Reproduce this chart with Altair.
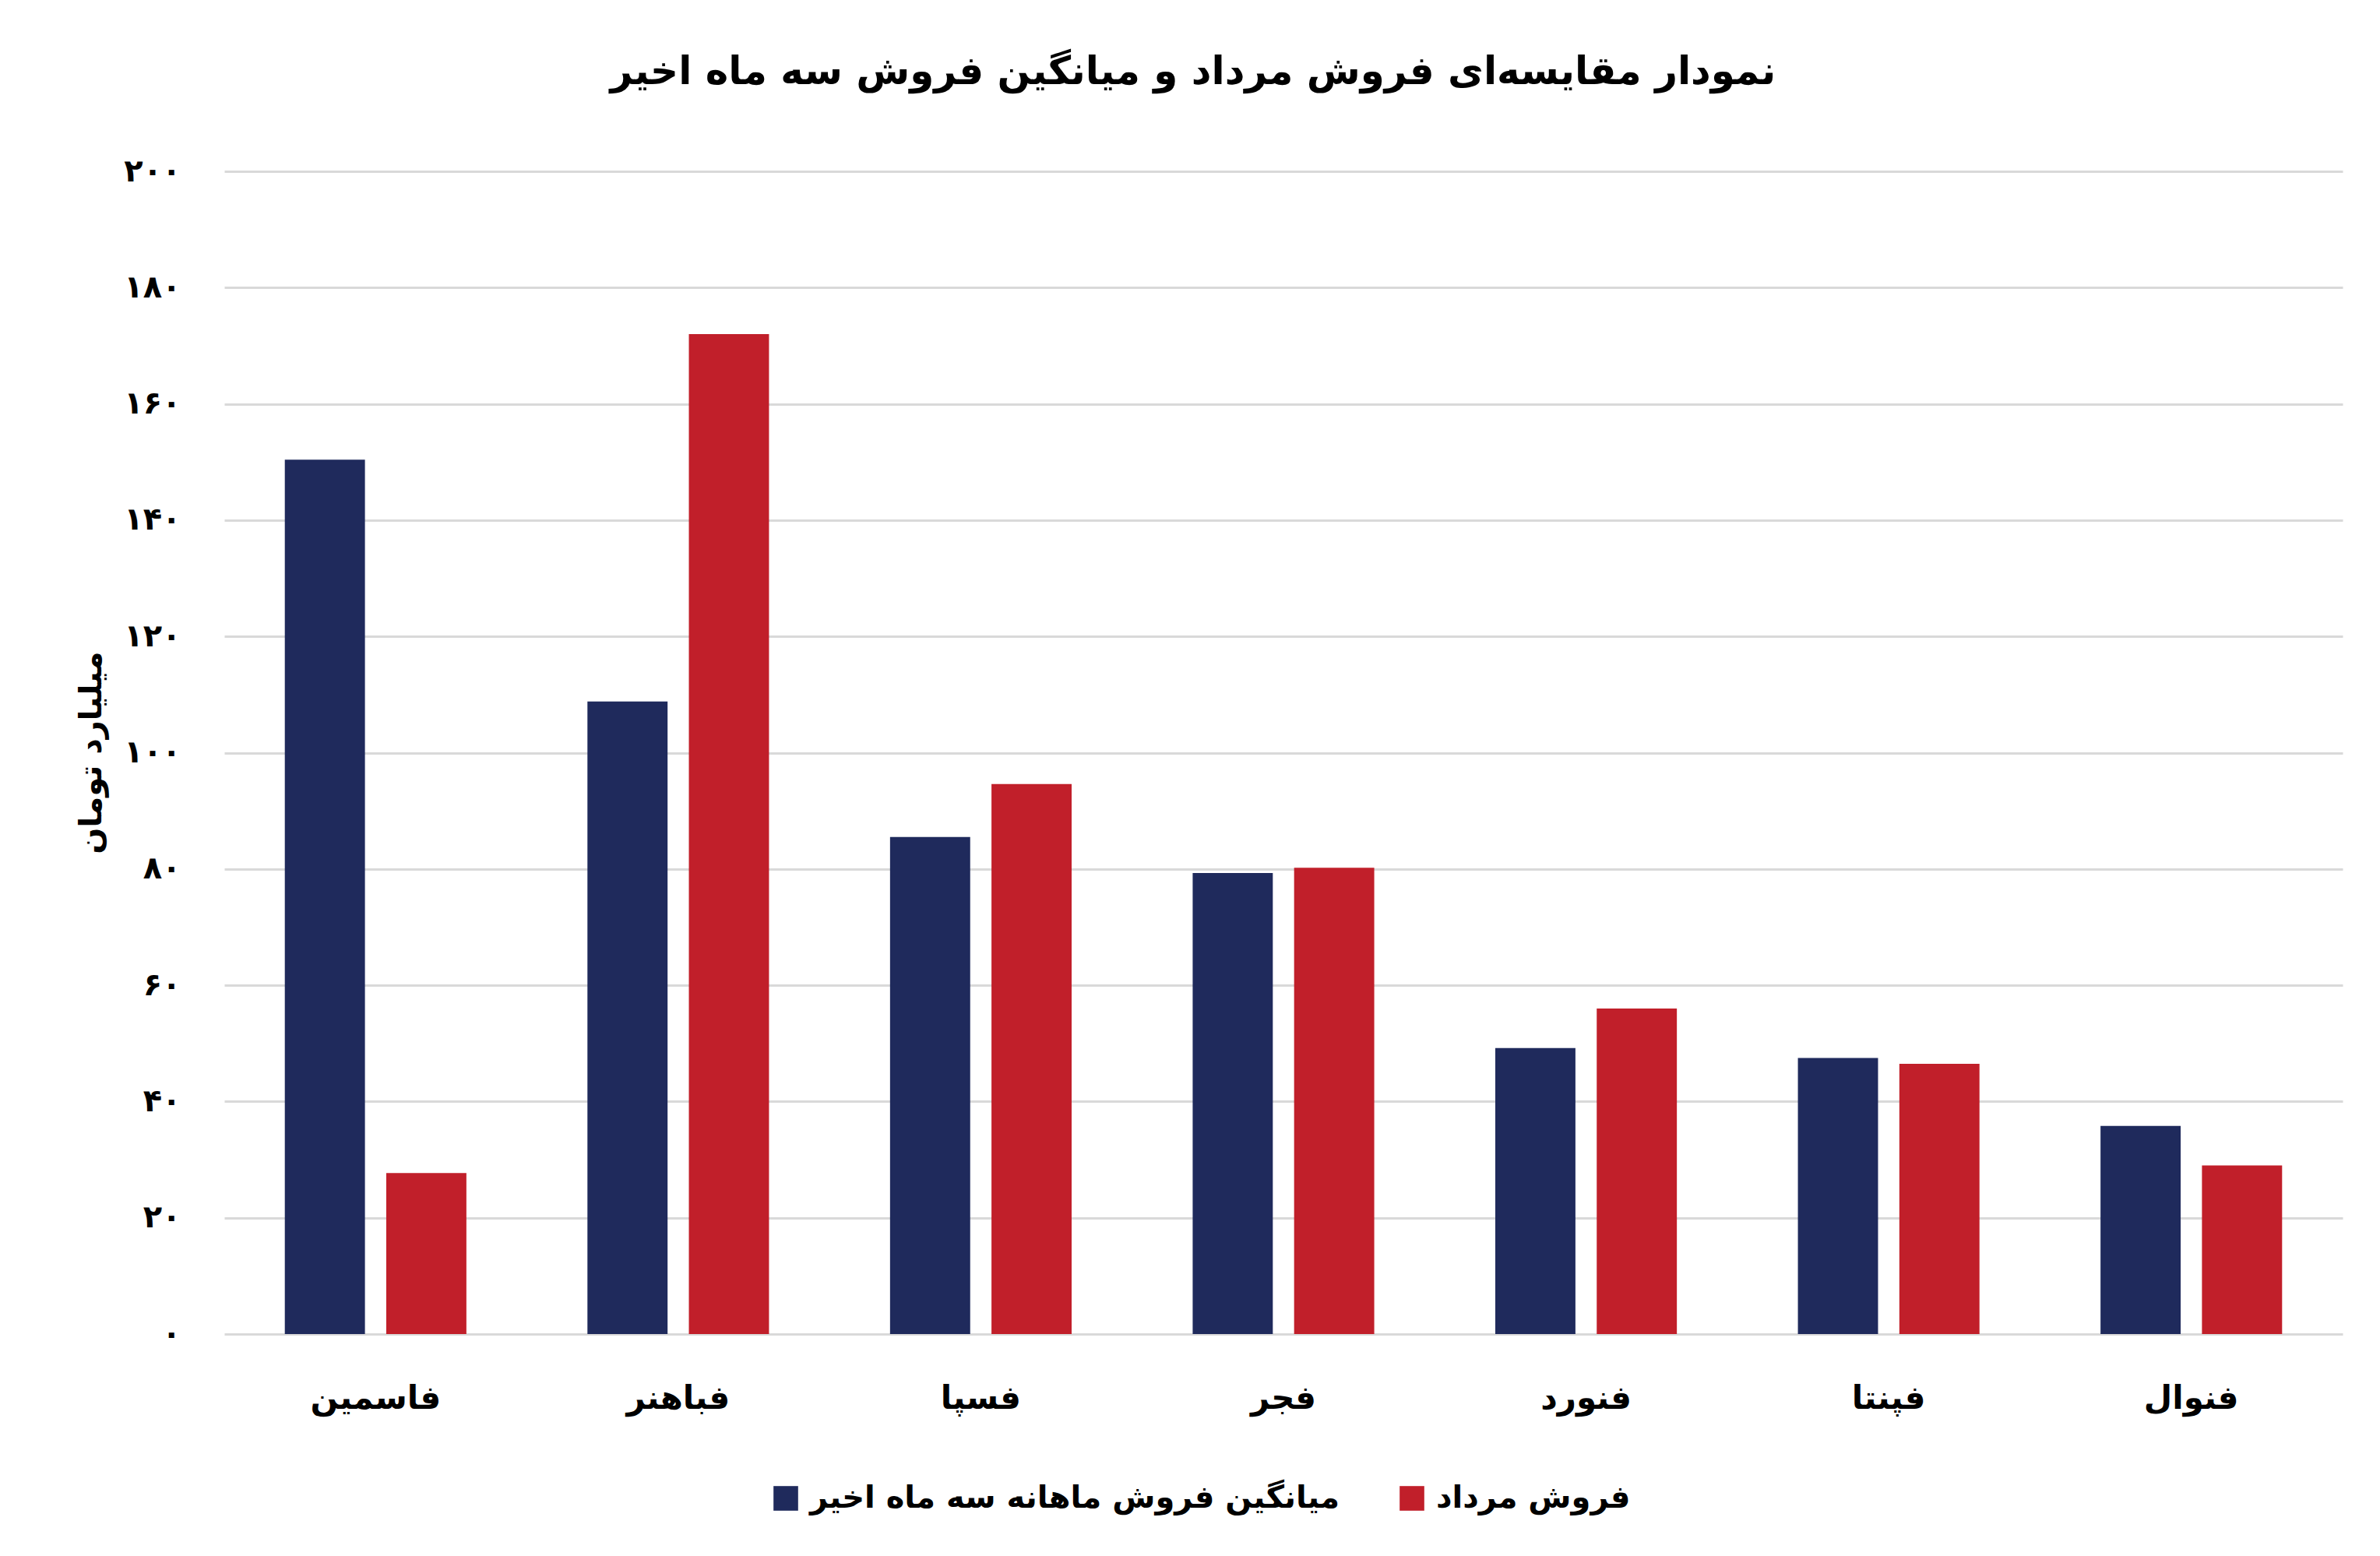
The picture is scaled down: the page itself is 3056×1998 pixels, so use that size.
import altair as alt
import pandas as pd

# ---- data ----
categories = ["فاسمین", "فباهنر", "فسپا", "فجر", "فنورد", "فپنتا", "فنوال"]
avg_sales = [150.4, 108.8, 85.5, 79.3, 49.2, 47.5, 35.8]
mordad_sales = [27.7, 172.0, 94.6, 80.2, 56.0, 46.5, 29.0]
series_names = ["میانگین فروش ماهانه سه ماه اخیر", "فروش مرداد"]
series_colors = ["#1f2a5c", "#c11f2a"]
y_tick_values = [0, 20, 40, 60, 80, 100, 120, 140, 160, 180, 200]
y_tick_labels = ["۰", "۲۰", "۴۰", "۶۰", "۸۰", "۱۰۰", "۱۲۰", "۱۴۰", "۱۶۰", "۱۸۰", "۲۰۰"]
title_text = "نمودار مقایسه‌ای فروش مرداد و میانگین فروش سه ماه اخیر"
y_title = "میلیارد تومان"

rows = []
for c, a, m in zip(categories, avg_sales, mordad_sales):
    rows.append({"category": c, "series": series_names[0], "value": a})
    rows.append({"category": c, "series": series_names[1], "value": m})
df = pd.DataFrame(rows)

label_expr = ""
for v, l in zip(y_tick_values, y_tick_labels):
    label_expr += f"datum.value == {v} ? '{l}' : "
label_expr += "datum.label"

FONT = "DejaVu Sans"

chart = alt.Chart(df).mark_bar().encode(
    x=alt.X(
        "category:N",
        sort=categories,
        scale=alt.Scale(paddingInner=0.4, paddingOuter=0.2),
        axis=alt.Axis(
            title=None, labelAngle=0, ticks=False, domain=False,
            labelFontSize=42, labelFont=FONT, labelFontWeight="bold",
            labelColor="black", labelPadding=62, labelBaseline="top",
        ),
    ),
    xOffset=alt.XOffset(
        "series:N", sort=series_names,
        scale=alt.Scale(paddingInner=0.21, paddingOuter=0),
    ),
    y=alt.Y(
        "value:Q",
        scale=alt.Scale(domain=[0, 200], nice=False),
        axis=alt.Axis(
            values=y_tick_values, labelExpr=label_expr, title=y_title,
            ticks=False, domain=False,
            labelFontSize=40, labelFont=FONT, labelFontWeight="bold",
            labelColor="black", labelPadding=56,
            titleFontSize=40, titleFont=FONT, titleFontWeight="bold",
            titleColor="black", titleX=-171, titleY=746,
            titleAngle=270, titleAlign="center", titleBaseline="middle",
            gridColor="#d9d9d9", gridWidth=3,
        ),
    ),
    color=alt.Color(
        "series:N",
        sort=series_names,
        scale=alt.Scale(domain=series_names, range=series_colors),
        legend=alt.Legend(
            title=None, orient="none", legendX=701, legendY=1684,
            direction="horizontal", symbolType="square", symbolSize=1000,
            symbolStrokeWidth=0, labelOffset=11, columnPadding=72,
            labelFontSize=40, labelFont=FONT, labelFontWeight="bold",
            labelColor="black", labelLimit=2000,
        ),
    ),
).properties(
    width=2720,
    height=1493,
    title=alt.TitleParams(
        text=title_text, fontSize=50, font=FONT, fontWeight="bold",
        color="black", anchor="middle", offset=82, dx=-116,
    ),
    autosize=alt.AutoSizeParams(type="none"),
    padding={"left": 280, "top": 212, "right": 36, "bottom": 271},
).configure(
    background="white",
    view=alt.ViewConfig(stroke=None),
)

chart.save("out.html", embed_options={"renderer": "svg", "actions": False})
